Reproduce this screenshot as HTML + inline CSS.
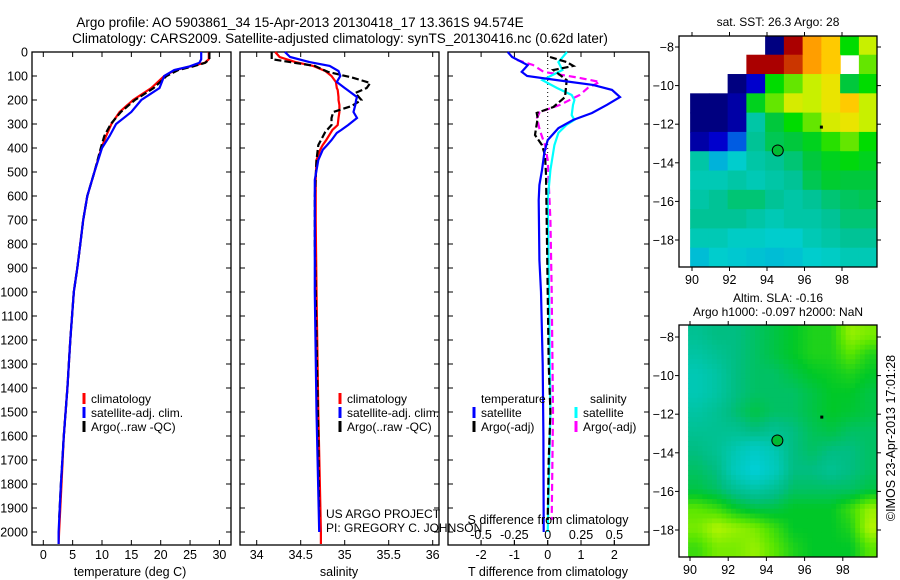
<!DOCTYPE html>
<html><head><meta charset="utf-8"><style>
body{margin:0;background:#fff;}
svg{display:block;font-family:"Liberation Sans",Arial,sans-serif;}
</style></head><body>
<svg id="c" width="900" height="580" viewBox="0 0 900 580">
<text x="300" y="27" font-size="13.5" text-anchor="middle">Argo profile: AO 5903861_34 15-Apr-2013 20130418_17 13.361S 94.574E</text>
<text x="340" y="43" font-size="13.5" text-anchor="middle">Climatology: CARS2009. Satellite-adjusted climatology: synTS_20130416.nc (0.62d later)</text>
</svg>
<script>
// ---- profile data ----
const tDepth=[0,30,45,60,75,100,150,200,250,300,350,400,500,600,700,800,900,1000,1200,1400,1600,1800,2000,2050];
const tClim=[28.2,28.2,27.5,25,22.5,20.6,18.4,15.3,13,11.6,10.7,9.9,8.7,7.5,6.8,6.3,5.8,5.2,4.6,4.1,3.5,3.1,2.7,2.6];
const tSat=[26.9,26.9,26.6,24.9,22.3,20.6,19.8,16.7,15,12.4,11.3,10.0,8.7,7.5,6.8,6.3,5.8,5.2,4.6,4.1,3.5,3.0,2.6,2.6];
const tArgoDepth=[0,30,45,60,75,100,150,200,250,300,350,400,500,600,700,800,900,1000,1200,1400,1600,1800,1950];
const tArgo=[28.3,28.3,27.6,25.5,23,21,18.8,15.6,13.2,11.5,10.4,9.8,8.7,7.5,6.8,6.3,5.8,5.2,4.6,4.1,3.5,3.0,2.7];
const sDepth=[0,21,42,58,79,100,125,150,158,188,200,221,250,275,304,325,337,367,388,408,450,533,700,1000,1500,2000,2050];
const sClim=[34.21,34.26,34.44,34.64,34.78,34.85,34.9,34.91,34.92,34.93,34.93,34.94,34.94,34.93,34.92,34.86,34.84,34.79,34.75,34.72,34.68,34.67,34.67,34.68,34.7,34.73,34.73];
const sSat=[34.32,34.38,34.6,34.83,34.93,34.95,34.91,35.0,35.03,35.14,35.13,35.12,35.1,35.14,35.04,34.96,34.91,34.85,34.8,34.75,34.7,34.66,34.66,34.66,34.68,34.71,34.71];
const sArgoDepth=[0,30,42,58,83,108,129,150,171,200,225,250,275,304,333,388,450,600,800,1200,1600,1950];
const sArgo=[34.17,34.17,34.38,34.66,34.81,35.1,35.29,35.25,35.12,35.19,35.08,34.87,34.85,34.85,34.78,34.7,34.68,34.66,34.66,34.68,34.7,34.71];
const dDepth=[0,21,55,83,100,117,137,158,188,220,254,283,317,367,417,492,554,617,867,1000,1300,1600,2000];
const dTSat=[-1.2,-1.07,-0.6,-0.78,-0.62,0.28,1.36,1.93,2.17,1.78,1.33,0.77,0.32,0,-0.1,-0.17,-0.25,-0.27,-0.25,-0.2,-0.15,-0.13,-0.12];
const dTArgoDepth=[21,42,58,75,117,188,229,254,275,346,388,430,510,700,1000,1300,1500,1700,1950];
const dTArgo=[0.07,0.57,0.77,0.17,0.57,0.52,0.17,-0.33,-0.3,-0.38,-0.17,-0.08,-0.05,-0.03,0.0,0.03,0.08,0.03,0.0];
const dSDepth=[0,42,75,117,150,179,200,221,263,283,304,337,388,492,617,1000,1500,2000];
const dSSat=[0.145,0.08,0.11,-0.04,0.07,0.18,0.2,0.19,0.18,0.2,0.14,0.08,0.05,0.02,0,0.01,0.02,0.0];
const dSArgoDepth=[33,54,83,108,125,150,179,221,250,275,325,388,450,700,1000,1500,1950];
const dSArgo=[-0.23,-0.11,-0.03,0.24,0.39,0.3,0.24,0.09,-0.06,-0.08,-0.06,-0.02,0,0.02,0.03,0.04,0.03];
const depthTicks=[0,100,200,300,400,500,600,700,800,900,1000,1100,1200,1300,1400,1500,1600,1700,1800,1900,2000];
const tTicks=[0,5,10,15,20,25,30];
const sTicks=[34,34.5,35,35.5,36];
const dtTicks=[-2,-1,0,1,2];
const dsTicks=[-0.5,-0.25,0,0.25,0.5];
// ---- map data (rows lat -7.4.. -19.4 step 1, cols lon 89.9..99.9 step 1), null = no data ----
const sstGrid=[
[null,null,null,null,0,1,.85,.8,.6,.7],
[null,null,null,1,1,.95,.85,.8,null,.65],
[null,null,0,.1,.6,.65,.7,.75,.5,.6],
[0,0,.05,.55,.65,.72,.7,.75,.8,.7],
[0,0,.05,.4,.5,.6,.65,.72,.75,.7],
[.05,.1,.2,.42,.48,.5,.55,.62,.65,.6],
[.4,.3,.35,.4,.42,.45,.5,.55,.58,.55],
[.38,.38,.4,.38,.4,.42,.48,.52,.5,.5],
[.4,.42,.45,.45,.42,.4,.42,.45,.47,.48],
[.42,.42,.42,.4,.38,.4,.4,.42,.45,.45],
[.38,.38,.36,.36,.35,.35,.38,.4,.42,.42],
[.32,.35,.34,.33,.32,.33,.35,.36,.38,.38]];
const slaGrid=[
[.4,.45,.45,.5,.55,.6,.65,.65,.85,.8],
[.35,.4,.45,.5,.55,.6,.65,.65,.75,.65],
[.3,.35,.45,.5,.5,.55,.6,.62,.65,.6],
[.3,.35,.45,.5,.5,.5,.55,.6,.6,.55],
[.35,.4,.48,.55,.5,.5,.55,.6,.58,.55],
[.4,.4,.4,.45,.4,.45,.52,.55,.5,.5],
[.45,.4,.3,.2,.3,.45,.5,.45,.45,.5],
[.5,.45,.25,.1,.25,.45,.45,.4,.45,.5],
[.55,.5,.4,.35,.4,.5,.5,.5,.5,.55],
[.75,.7,.6,.55,.55,.6,.6,.6,.7,.85],
[.8,.9,.85,.8,.7,.6,.6,.6,.65,.9],
[.7,.8,.8,.85,.75,.65,.6,.6,.6,.75]];
const latTicks=[-8,-10,-12,-14,-16,-18];
const lonTicks=[90,92,94,96,98];
const argoPos=[94.574,-13.361];
const dotPos=[96.9,-12.15];

const NS='http://www.w3.org/2000/svg';
const svg=document.getElementById('c');
function el(tag,attrs,parent){const e=document.createElementNS(NS,tag);for(const k in attrs)e.setAttribute(k,attrs[k]);(parent||svg).appendChild(e);return e;}
function txt(x,y,s,size,anchor,parent){const e=el('text',{x:x,y:y,'font-size':size,'text-anchor':anchor||'start'},parent);e.textContent=s;return e;}
const Y0=52,DY=0.24;
const yD=d=>Y0+d*DY;
const xT=v=>43.3+v*5.87;
const xS=v=>256.7+(v-34)*88;
const xDT=v=>547.7+v*33.3;
const xDS=v=>547.7+v*133.3;

function panel(name,x0,x1,labels){
  const g=el('g',{});
  
  
  el('rect',{x:x0,y:Y0,width:x1-x0,height:545-Y0,fill:'#fff',stroke:'#000','stroke-width':1.3},g);
  depthTicks.forEach(d=>{
    el('line',{x1:x0,x2:x0+5,y1:yD(d),y2:yD(d),stroke:'#000'},g);
    el('line',{x1:x1,x2:x1-5,y1:yD(d),y2:yD(d),stroke:'#000'},g);
    if(labels){const t=txt(x0-4,yD(d)+4.5,String(d),12.5,'end',g);}
  });
  return g;
}
function xticks(g,ticks,fx){
  ticks.forEach(v=>{
    el('line',{x1:fx(v),x2:fx(v),y1:545,y2:540,stroke:'#000'},g);
    el('line',{x1:fx(v),x2:fx(v),y1:Y0,y2:Y0+5,stroke:'#000'},g);
    const t=txt(fx(v),559,String(v),12.5,'middle',g);
    
    
  });
}
function line(g,ds,vs,fx,color,dash,name){
  const p=ds.map((d,i)=>(i?'L':'M')+fx(vs[i]).toFixed(1)+','+yD(d).toFixed(1)).join('');
  const e=el('path',{d:p,fill:'none',stroke:color,'stroke-width':2.2},g);
  if(dash)e.setAttribute('stroke-dasharray',dash);
  
  
}
function legend(g,x,y,items){
  items.forEach((it,i)=>{
    const yy=y+i*14;
    el('line',{x1:x,x2:x,y1:yy-10,y2:yy+1,stroke:it[1],'stroke-width':3},g);
    const t=txt(x+7,yy,it[0],12,'start',g);
    
    
  });
}
// panel 1
const p1=panel('temperature-panel',32,231,true);
xticks(p1,tTicks,xT);
line(p1,tDepth,tClim,xT,'#f00',null,'temp-climatology-line');
line(p1,tArgoDepth,tArgo,xT,'#000','7,3','temp-argo-line');
line(p1,tDepth,tSat,xT,'#00f',null,'temp-satellite-line');
legend(p1,84,403,[['climatology','#f00'],['satellite-adj. clim.','#00f'],['Argo(..raw -QC)','#000']]);
let t=txt(130,576,'temperature (deg C)',12.5,'middle',p1);
// panel 2
const p2=panel('salinity-panel',240,439,false);
xticks(p2,sTicks,xS);
line(p2,sDepth,sClim,xS,'#f00',null,'sal-climatology-line');
line(p2,sArgoDepth,sArgo,xS,'#000','7,3','sal-argo-line');
line(p2,sDepth.slice(0,26),sSat.slice(0,26),xS,'#00f',null,'sal-satellite-line');
legend(p2,340,403,[['climatology','#f00'],['satellite-adj. clim.','#00f'],['Argo(..raw -QC)','#000']]);
t=txt(339,576,'salinity',12.5,'middle',p2);
// panel 3
const p3=panel('difference-panel',448,649,false);
xticks(p3,dtTicks,xDT);
el('line',{x1:xDT(0),x2:xDT(0),y1:Y0,y2:yD(430),stroke:'#000','stroke-dasharray':'1,3'},p3);
line(p3,dSArgoDepth,dSArgo,xDS,'#f0f','7,4','sdiff-argo-line');
line(p3,dSDepth,dSSat,xDS,'#0ff',null,'sdiff-satellite-line');
line(p3,dTArgoDepth,dTArgo,xDT,'#000','7,3','tdiff-argo-line');
line(p3,dDepth,dTSat,xDT,'#00f',null,'tdiff-satellite-line');
t=txt(481,403,'temperature',12,'start',p3);
t=txt(590,403,'salinity',12,'start',p3);
legend(p3,474,417,[['satellite','#00f'],['Argo(-adj)','#000']]);
legend(p3,576,417,[['satellite','#0ff'],['Argo(-adj)','#f0f']]);
t=txt(548,524,'S difference from climatology',12.5,'middle',p3);
dsTicks.forEach(v=>{el('line',{x1:xDS(v),x2:xDS(v),y1:545,y2:540,stroke:'#000'},p3);const q=txt(xDS(v),539,String(v),12.5,'middle',p3);});
t=txt(548,576,'T difference from climatology',12.5,'middle',p3);
// notes drawn on top (overlap panel 3)
t=txt(326,518,'US ARGO PROJECT',12,'start');
t=txt(326,532,'PI: GREGORY C. JOHNSON',12,'start');

// ---- maps ----
function lerpMap(stops,v){
  for(let i=1;i<stops.length;i++){if(v<=stops[i][0]){const a=stops[i-1],b=stops[i],f=(v-a[0])/(b[0]-a[0]);return 'rgb('+[1,2,3].map(k=>Math.round(a[k]+(b[k]-a[k])*f)).join(',')+')';}}
  const s=stops[stops.length-1];return 'rgb('+s[1]+','+s[2]+','+s[3]+')';
}
const sstStops=[[0,0,0,128],[0.12,0,0,220],[0.25,0,150,230],[0.35,0,205,205],[0.42,0,195,150],[0.5,0,200,60],[0.6,0,220,0],[0.7,200,240,0],[0.78,255,220,0],[0.87,255,140,0],[1,170,0,0]];
const slaStops=[[0,0,210,235],[0.3,0,200,180],[0.45,0,190,130],[0.6,0,200,40],[0.75,90,230,0],[0.9,180,245,0],[1,220,255,0]];
function map(name,box,lx0,ls,ly0,lts,grid,stops,smooth){
  const g=el('g',{});
  
  
  const fx=lon=>lx0+(lon-90)*ls, fy=lat=>ly0+(-8-lat)*lts;
  const cid=name+'-clip';
  const cp=el('clipPath',{id:cid},g);el('rect',{x:box[0],y:box[1],width:box[2]-box[0],height:box[3]-box[1]},cp);
  const cg=el('g',{'clip-path':'url(#'+cid+')'},g);
  const R=grid.length,C=grid[0].length;
  if(!smooth){
    for(let r=0;r<R;r++)for(let c=0;c<C;c++){const v=grid[r][c];if(v===null)continue;
      const x=fx(89.9+c),y=fy(-7.4-r);
      const e=el('rect',{x:x,y:y,width:ls+0.6,height:lts+0.6,fill:lerpMap(stops,v)},cg);
      
      }
  } else {
    const n=4;
    for(let r=0;r<R*n;r++)for(let c=0;c<C*n;c++){
      const gr=Math.min(R-1,Math.max(0,(r+0.5)/n-0.5)),gc=Math.min(C-1,Math.max(0,(c+0.5)/n-0.5));
      const r0=Math.floor(gr),c0=Math.floor(gc),r1=Math.min(R-1,r0+1),c1=Math.min(C-1,c0+1),fr=gr-r0,fc=gc-c0;
      const v=grid[r0][c0]*(1-fr)*(1-fc)+grid[r0][c1]*(1-fr)*fc+grid[r1][c0]*fr*(1-fc)+grid[r1][c1]*fr*fc;
      const x=fx(89.9+c/n),y=fy(-7.4-r/n);
      const e=el('rect',{x:x,y:y,width:ls/n+0.5,height:lts/n+0.5,fill:lerpMap(stops,v)},cg);
      
      }
  }
  el('rect',{x:box[0],y:box[1],width:box[2]-box[0],height:box[3]-box[1],fill:'none',stroke:'#000','stroke-width':1.3},g);
  latTicks.forEach(v=>{el('line',{x1:box[0],x2:box[0]-4,y1:fy(v),y2:fy(v),stroke:'#000'},g);el('line',{x1:box[2],x2:box[2]+4,y1:fy(v),y2:fy(v),stroke:'#000'},g);
    const q=txt(box[0]-5,fy(v)+4.5,String(v).replace('-','\u2212'),12.5,'end',g);});
  lonTicks.forEach(v=>{el('line',{x1:fx(v),x2:fx(v),y1:box[3],y2:box[3]+4,stroke:'#000'},g);el('line',{x1:fx(v),x2:fx(v),y1:box[1],y2:box[1]-4,stroke:'#000'},g);
    const q=txt(fx(v),box[3]+17,String(v),12.5,'middle',g);});
  const c=el('circle',{cx:fx(argoPos[0]),cy:fy(argoPos[1]),r:5.5,fill:'#0b3',stroke:'#000','stroke-width':1},g);
  
  
  const d=el('rect',{x:fx(dotPos[0])-1.5,y:fy(dotPos[1])-1.5,width:3,height:3,fill:'#000'},g);
  
  
  return g;
}
map('sst-map',[679,36,877,267],692,18.75,47,19.3,sstGrid,sstStops,false);
map('sla-map',[679,325,877,557],690,19.1,337,19.3,slaGrid,slaStops,true);
t=txt(778,26,'sat. SST: 26.3 Argo: 28',12,'middle');
t=txt(778,302,'Altim. SLA: -0.16',12,'middle');
t=txt(778,316,'Argo h1000: -0.097 h2000: NaN',12,'middle');
t=txt(0,0,'\u00a9IMOS 23-Apr-2013 17:01:28',12.5,'middle');
t.setAttribute('transform','translate(895,438) rotate(-90)');


</script>
</body></html>
